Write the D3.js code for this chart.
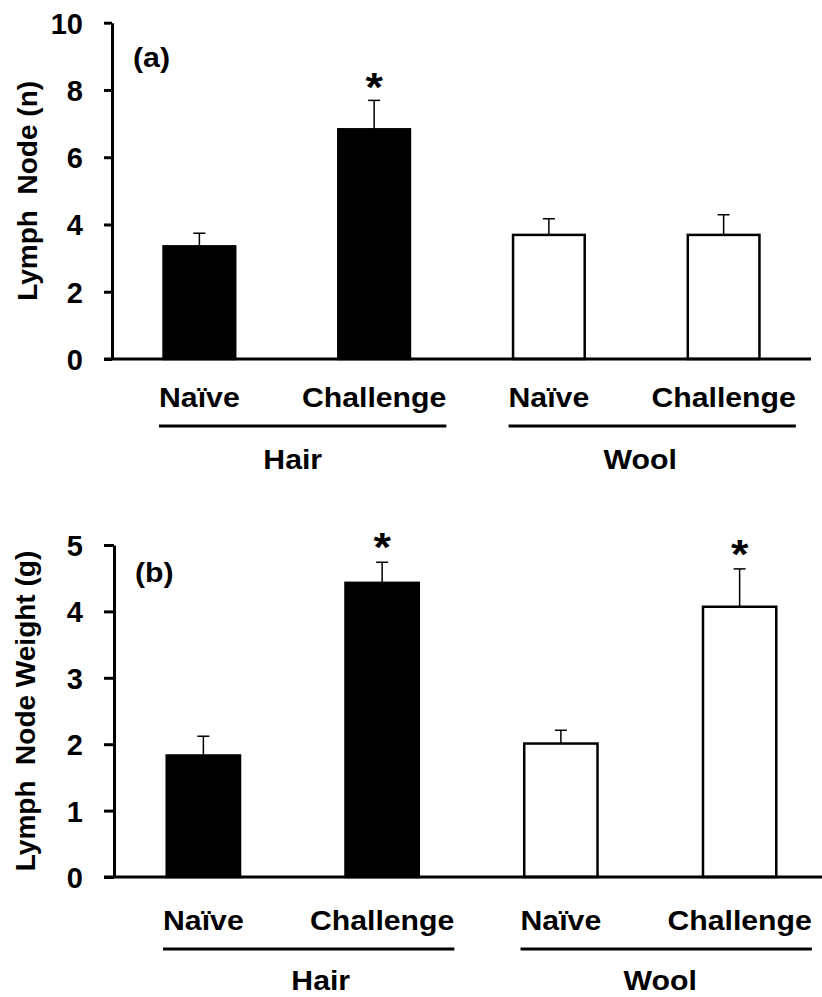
<!DOCTYPE html>
<meta charset="utf-8">
<html>
<head>
<title>Lymph node</title>
<style>
  body { margin: 0; background: #fff; }
  svg text { font-family: "Liberation Sans", Arial, sans-serif; font-weight: bold; fill: #000; }
</style>
</head>
<body>
<div id="viz"></div>
<script src="https://cdnjs.cloudflare.com/ajax/libs/d3/7.8.5/d3.min.js"></script>
<script>
// data
var categories = ["Naïve", "Challenge", "Naïve", "Challenge"];
var groupOf = ["Hair", "Hair", "Wool", "Wool"];
var groupNames = ["Hair", "Wool"];
var barFill = ["#000", "#000", "#fff", "#fff"];

var nodeCount = [3.35, 6.83, 3.69, 3.69];
var nodeCountErr = [0.39, 0.86, 0.48, 0.6];
var nodeCountSig = [false, true, false, false];
var countTicks = [0, 2, 4, 6, 8, 10];

var nodeWeight = [1.83, 4.43, 2.01, 4.07];
var nodeWeightErr = [0.29, 0.31, 0.2, 0.57];
var nodeWeightSig = [false, true, false, true];
var weightTicks = [0, 1, 2, 3, 4, 5];

var svg = d3.select("#viz").append("svg")
    .attr("width", 822)
    .attr("height", 997);

var stretch = 1.12;

function label(g, txt, x, y, size, anchor) {
    return g.append("text")
        .attr("transform", "translate(" + x + "," + y + ") scale(" + stretch + ",1)")
        .attr("text-anchor", anchor || "middle")
        .style("font-size", size + "px")
        .text(txt);
}

function drawPanel(p) {
    var g = svg.append("g");

    var x = d3.scaleBand()
        .domain(d3.range(categories.length))
        .range([p.left, p.right])
        .paddingInner(0.59)
        .paddingOuter(0.295);

    var y = d3.scaleLinear()
        .domain([0, p.max])
        .range([p.bottom, p.top]);

    // bars
    g.selectAll("rect.bar")
        .data(p.values).enter()
        .append("rect")
        .attr("class", "bar")
        .attr("x", function (d, i) { return x(i); })
        .attr("y", function (d) { return y(d); })
        .attr("width", x.bandwidth())
        .attr("height", function (d) { return y(0) - y(d); })
        .attr("fill", function (d, i) { return barFill[i]; })
        .attr("stroke", "#000")
        .attr("stroke-width", 2.5);

    // error bars (upper only)
    var eb = g.selectAll("g.err")
        .data(p.values).enter()
        .append("g")
        .attr("class", "err");
    eb.append("line")
        .attr("x1", function (d, i) { return x(i) + x.bandwidth() / 2; })
        .attr("x2", function (d, i) { return x(i) + x.bandwidth() / 2; })
        .attr("y1", function (d) { return y(d); })
        .attr("y2", function (d, i) { return y(d + p.errs[i]); })
        .attr("stroke", "#000")
        .attr("stroke-width", 1.5);
    eb.append("line")
        .attr("x1", function (d, i) { return x(i) + x.bandwidth() / 2 - 6; })
        .attr("x2", function (d, i) { return x(i) + x.bandwidth() / 2 + 6; })
        .attr("y1", function (d, i) { return y(d + p.errs[i]); })
        .attr("y2", function (d, i) { return y(d + p.errs[i]); })
        .attr("stroke", "#000")
        .attr("stroke-width", 1.5);

    // significance stars
    p.values.forEach(function (d, i) {
        if (p.sig[i]) {
            label(g, "*", x(i) + x.bandwidth() / 2, y(d + p.errs[i]) + p.starDy, 40);
        }
    });

    // y axis
    var yAxis = d3.axisLeft(y)
        .tickValues(p.ticks)
        .tickFormat(d3.format("d"))
        .tickSize(p.tickSize)
        .tickSizeOuter(0)
        .tickPadding(p.left - p.tickSize - 83);
    var ya = g.append("g")
        .attr("transform", "translate(" + p.left + ",0)")
        .call(yAxis);
    ya.selectAll("path, line").attr("stroke", "#000").attr("stroke-width", 3);
    ya.selectAll("text")
        .style("font-size", "29px")
        .attr("dy", "0.36em");

    // x baseline
    g.append("line")
        .attr("x1", p.left - p.tickSize)
        .attr("x2", p.axisEnd)
        .attr("y1", y(0))
        .attr("y2", y(0))
        .attr("stroke", "#000")
        .attr("stroke-width", 3);

    // category labels
    var catText = categories.map(function (c, i) {
        return label(g, c, x(i) + x.bandwidth() / 2, y(0) + p.catDy, 27);
    });

    // group underline + group label
    groupNames.forEach(function (name, k) {
        var idx = d3.range(categories.length).filter(function (i) { return groupOf[i] === name; });
        var first = catText[idx[0]].node().getBoundingClientRect();
        var last = catText[idx[idx.length - 1]].node().getBoundingClientRect();
        g.append("line")
            .attr("x1", first.left)
            .attr("x2", last.right)
            .attr("y1", y(0) + p.lineDy)
            .attr("y2", y(0) + p.lineDy)
            .attr("stroke", "#000")
            .attr("stroke-width", 3);
        label(g, name, (first.left + last.right) / 2 + p.groupDx[k], y(0) + p.groupDy, 27);
    });

    // panel letter
    label(g, p.letter, p.left + 21, p.top + p.letterDy, 27, "start");

    // y title
    g.append("text")
        .attr("transform", "translate(" + p.titleX + "," + (p.top + p.bottom) / 2 + ") rotate(-90)")
        .attr("text-anchor", "middle")
        .attr("dy", "0.36em")
        .style("font-size", "28px")
        .style("white-space", "pre")
        .text(p.title);
}

drawPanel({
    values: nodeCount, errs: nodeCountErr, sig: nodeCountSig, ticks: countTicks, max: 10,
    left: 112, right: 811, axisEnd: 811, top: 22.7, bottom: 359, tickSize: 8,
    catDy: 48, lineDy: 67, groupDy: 110, groupDx: [-10, -12], starDy: 1, letter: "(a)", letterDy: 44,
    title: "Lymph  Node (n)", titleX: 27
});

drawPanel({
    values: nodeWeight, errs: nodeWeightErr, sig: nodeWeightSig, ticks: weightTicks, max: 5,
    left: 114, right: 829, axisEnd: 822, top: 545, bottom: 877, tickSize: 10,
    catDy: 53, lineDy: 72, groupDy: 113, groupDx: [12, -6], starDy: -1, letter: "(b)", letterDy: 37,
    title: "Lymph  Node Weight (g)", titleX: 25
});
</script>
</body>
</html>
